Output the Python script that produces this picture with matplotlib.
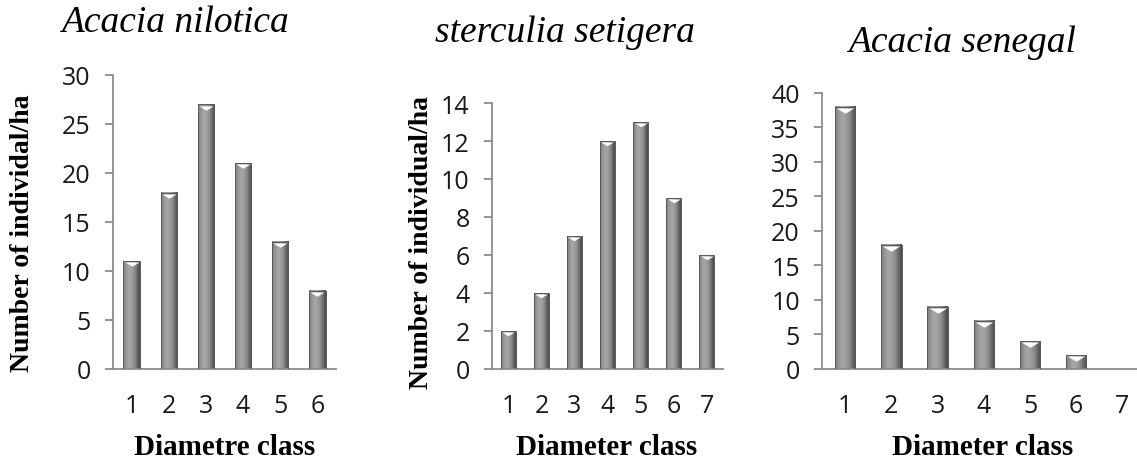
import numpy as np
import matplotlib.pyplot as plt
from matplotlib import transforms
from matplotlib.colors import LinearSegmentedColormap

# data
classes_nilotica = [1, 2, 3, 4, 5, 6]
counts_nilotica = [11, 18, 27, 21, 13, 8]

classes_sterculia = [1, 2, 3, 4, 5, 6, 7]
counts_sterculia = [2, 4, 7, 12, 13, 9, 6]

classes_senegal = [1, 2, 3, 4, 5, 6, 7]
counts_senegal = [38, 18, 9, 7, 4, 2, 0]

panels = [
    dict(title="Acacia nilotica", x=classes_nilotica, y=counts_nilotica,
         ymax=30, step=5, xlabel="Diametre class", ylabel="Number of individal/ha",
         rect=[0.0994, 0.1957, 0.1961, 0.6391], title_xy=(175, 23),
         xlabel_xy=(225, 455), ylabel_xy=(23, 233)),
    dict(title="sterculia setigera", x=classes_sterculia, y=counts_sterculia,
         ymax=14, step=2, xlabel="Diameter class", ylabel="Number of individual/ha",
         rect=[0.4327, 0.1957, 0.2032, 0.5782], title_xy=(565, 33),
         xlabel_xy=(607, 455), ylabel_xy=(422, 243)),
    dict(title="Acacia senegal", x=classes_senegal, y=counts_senegal,
         ymax=40, step=5, xlabel="Diameter class", ylabel=None,
         rect=[0.7230, 0.1957, 0.2845, 0.6000], title_xy=(962, 43),
         xlabel_xy=(983, 455), ylabel_xy=None),
]

W, H = 1137, 460
bar_w = 0.44
axis_grey = "#8c8c8c"

cyl = LinearSegmentedColormap.from_list(
    "cyl", ["#7c7c7c", "#959595", "#a6a6a6", "#a0a0a0", "#909090", "#6c6c6c", "#4a4a4a"])
grad = np.linspace(0, 1, 64).reshape(1, -1)
bevel = [(-1, 0), (1, 0), (0, -0.6), (-1, 0)]

fig = plt.figure(figsize=(W / 100, H / 100), dpi=100)

for p in panels:
    ax = fig.add_axes(p["rect"])
    n = len(p["x"])
    for xi, yi in zip(p["x"], p["y"]):
        if yi <= 0:
            continue
        ax.imshow(grad, cmap=cyl, aspect="auto", zorder=2,
                  extent=(xi - bar_w / 2, xi + bar_w / 2, 0, yi))
        ax.bar(xi, yi, width=bar_w, fill=False, edgecolor="#5a5a5a",
               linewidth=0.7, zorder=3)
    # white bevel at bar tops
    bar_px = p["rect"][2] * W / n * bar_w
    tops = [(xi, yi) for xi, yi in zip(p["x"], p["y"]) if yi > 0]
    off = transforms.offset_copy(ax.transData, fig=fig, x=0, y=-0.8, units="points")
    ax.plot([t[0] for t in tops], [t[1] for t in tops], ls="none", marker=bevel,
            markersize=bar_px * 0.72 * 0.86, color="white", markeredgewidth=0,
            transform=off, zorder=4, clip_on=False)

    ax.set_xlim(0.5, n + 0.5)
    ax.set_ylim(0, p["ymax"])
    ax.set_aspect("auto")
    ax.set_yticks(np.arange(0, p["ymax"] + 1, p["step"]))
    ax.set_xticks(p["x"])
    for s in ["top", "right"]:
        ax.spines[s].set_visible(False)
    for s in ["left", "bottom"]:
        ax.spines[s].set_color(axis_grey)
        ax.spines[s].set_linewidth(1.3)
    ax.tick_params(axis="y", length=6, width=1.3, color=axis_grey, pad=10,
                   labelsize=18)
    ax.tick_params(axis="x", length=0, pad=17, labelsize=18)
    for lab in ax.get_xticklabels() + ax.get_yticklabels():
        lab.set_fontfamily("Open Sans")
        lab.set_color("#1a1a1a")

    tx, ty = p["title_xy"]
    fig.text(tx / W, 1 - ty / H, p["title"], ha="center", va="center",
             fontsize=27, style="italic", family="Liberation Serif")
    lx, ly = p["xlabel_xy"]
    fig.text(lx / W, 1 - ly / H, p["xlabel"], ha="center", va="baseline",
             fontsize=21, weight="bold", family="Liberation Serif")
    if p["ylabel"]:
        yx, yy = p["ylabel_xy"]
        fig.text(yx / W, 1 - yy / H, p["ylabel"], ha="center", va="center",
                 rotation=90, fontsize=20, weight="bold", family="Liberation Serif")

fig.savefig("out.png", dpi=100)
